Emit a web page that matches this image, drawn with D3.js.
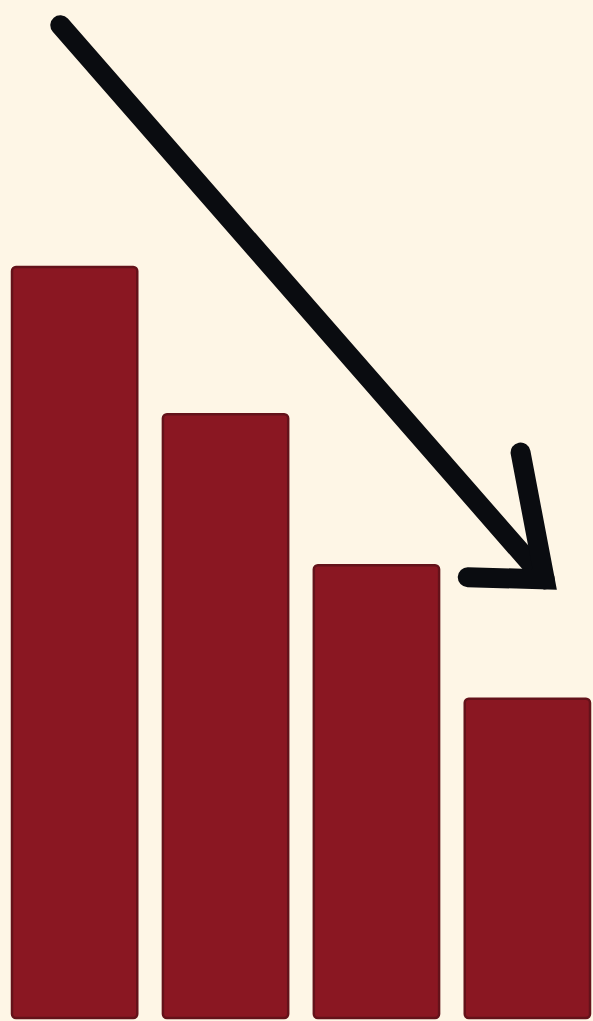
<!DOCTYPE html>
<html>
<head>
<meta charset="utf-8">
<script src="https://cdn.jsdelivr.net/npm/d3@7"></script>
<style>
  html, body { margin: 0; padding: 0; background: #fef6e6; overflow: hidden; }
  svg { display: block; }
</style>
</head>
<body>
<svg id="chart" width="593" height="1021"></svg>
<script>
// bar data (relative heights)
var categories = ["A", "B", "C", "D"];
var values = [100, 80.4, 60.3, 42.5];

// arrow drawn in chart units: x in band-index units, y in value units
var arrowShaft = [[0.32, 132.2], [3.53, 58.4]];
var arrowHead = [[3.37, 75.3], [3.53, 58.4], [3.02, 58.7]];

(function() {
  var svg = d3.select("#chart"),
      width = +svg.attr("width"),
      height = +svg.attr("height");

  var plotLeft = 12, plotRight = 590, plotBottom = 1018, plotTop = 267;

  var x = d3.scaleBand()
      .domain(categories)
      .range([plotLeft, plotRight])
      .paddingInner(0.17)
      .paddingOuter(0);

  var y = d3.scaleLinear()
      .domain([0, d3.max(values)])
      .range([plotBottom, plotTop]);

  // continuous x for the annotation arrow
  var xa = d3.scaleLinear()
      .domain([0, categories.length])
      .range([plotLeft, plotLeft + x.step() * categories.length]);

  svg.append("rect")
      .attr("width", width).attr("height", height)
      .attr("fill", "#fef6e6");

  svg.append("g")
    .selectAll("rect")
    .data(values)
    .enter()
    .append("rect")
      .attr("x", function(d, i) { return x(categories[i]); })
      .attr("y", function(d) { return y(d); })
      .attr("width", x.bandwidth())
      .attr("height", function(d) { return y(0) - y(d); })
      .attr("rx", 4)
      .attr("fill", "#8a1722")
      .attr("stroke", "#64121a")
      .attr("stroke-width", 2.5);

  var line = d3.line()
      .x(function(p) { return xa(p[0]); })
      .y(function(p) { return y(p[1]); });

  svg.append("path")
      .attr("d", line(arrowShaft))
      .attr("fill", "none")
      .attr("stroke", "#0a0c10")
      .attr("stroke-width", 20)
      .attr("stroke-linecap", "round");

  svg.append("path")
      .attr("d", line(arrowHead))
      .attr("fill", "none")
      .attr("stroke", "#0a0c10")
      .attr("stroke-width", 20)
      .attr("stroke-linecap", "round")
      .attr("stroke-linejoin", "miter");
})();
</script>
</body>
</html>
